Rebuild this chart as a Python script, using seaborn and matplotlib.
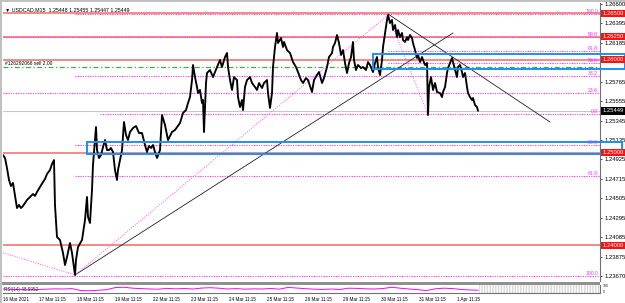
import numpy as np
import pandas as pd
import matplotlib
matplotlib.use("Agg")
import matplotlib.pyplot as plt
import matplotlib.transforms as mtransforms
from matplotlib.patches import Rectangle
import seaborn as sns

sns.set_style("white")
plt.rcParams['font.family'] = ['Liberation Sans', 'DejaVu Sans']

# ---------------- DATA ----------------
# time in trading days since 16 Mar 2021 00:00 (weekend skipped)
t_days = [0.521, 0.574, 0.626, 0.679, 0.731, 0.784, 0.837, 0.889, 0.942, 0.995, 1.047, 1.100, 1.153, 1.231,
          1.310, 1.363, 1.416, 1.495, 1.574, 1.626, 1.679, 1.758, 1.810, 1.863, 1.889, 1.942, 2.021, 2.100,
          2.153, 2.205, 2.284, 2.337, 2.416, 2.442, 2.495, 2.600, 2.679, 2.731, 2.758, 2.810, 2.863, 2.889,
          2.942, 2.968, 2.995, 3.047, 3.100, 3.153, 3.205, 3.258, 3.310, 3.363, 3.416, 3.468, 3.521, 3.547,
          3.600, 3.653, 3.705, 3.758, 3.810, 3.863, 3.942, 4.021, 4.100, 4.179, 4.258, 4.310, 4.363, 4.416,
          4.468, 4.521, 4.574, 4.653, 4.705, 4.784, 4.863, 4.968, 5.047, 5.179, 5.258, 5.337, 5.389, 5.442,
          5.495, 5.521, 5.574, 5.626, 5.653, 5.705, 5.758, 5.784, 5.810, 5.863, 5.889, 5.968, 6.047, 6.153,
          6.231, 6.284, 6.363, 6.416, 6.442, 6.495, 6.547, 6.600, 6.679, 6.705, 6.758, 6.810, 6.837, 6.889,
          6.942, 7.021, 7.074, 7.153, 7.205, 7.258, 7.337, 7.389, 7.468, 7.495, 7.547, 7.600, 7.626, 7.679,
          7.731, 7.758, 7.837, 7.889, 7.916, 7.995, 8.074, 8.153, 8.231, 8.284, 8.363, 8.416, 8.495, 8.547,
          8.653, 8.705, 8.784, 8.837, 8.916, 8.968, 9.047, 9.100, 9.179, 9.205, 9.258, 9.310, 9.363, 9.416,
          9.468, 9.521, 9.574, 9.626, 9.679, 9.731, 9.758, 9.810, 9.863, 9.942, 9.995, 10.074, 10.126, 10.179,
          10.258, 10.310, 10.363, 10.389, 10.442, 10.495, 10.521, 10.574, 10.626, 10.653, 10.705, 10.758,
          10.784, 10.837, 10.889, 10.916, 10.968, 11.021, 11.047, 11.100, 11.153, 11.179, 11.231, 11.284,
          11.310, 11.363, 11.416, 11.442, 11.495, 11.547, 11.574, 11.626, 11.679, 11.705, 11.731, 11.784,
          11.837, 11.889, 11.942, 12.021, 12.074, 12.100, 12.153, 12.205, 12.231, 12.284, 12.337, 12.363,
          12.416, 12.468, 12.495, 12.547, 12.600, 12.626, 12.679, 12.731, 12.758, 12.810, 12.863, 12.889,
          12.942, 12.995, 13.021]
price = [1.24973, 1.24941, 1.24833, 1.24704, 1.24639, 1.24672, 1.24532, 1.24402, 1.24435, 1.24402, 1.24424,
         1.24456, 1.24489, 1.24521, 1.24553, 1.24532, 1.24575, 1.24629, 1.24683, 1.24715, 1.24769, 1.24812,
         1.24876, 1.24919, 1.24435, 1.24090, 1.24058, 1.23918, 1.23788, 1.23874, 1.24025, 1.23918, 1.23681,
         1.23842, 1.23982, 1.24058, 1.24273, 1.24521, 1.24306, 1.24241, 1.24596, 1.24866, 1.25135, 1.25275,
         1.25027, 1.24941, 1.24973, 1.25059, 1.25135, 1.25027, 1.25027, 1.25049, 1.25006, 1.24812, 1.24704,
         1.24812, 1.24919, 1.25027, 1.25329, 1.25189, 1.25135, 1.25221, 1.25264, 1.25286, 1.25210, 1.25210,
         1.25081, 1.25006, 1.25070, 1.25049, 1.25081, 1.25006, 1.24941, 1.25027, 1.25404, 1.25297, 1.25135,
         1.25221, 1.25243, 1.25318, 1.25426, 1.25458, 1.25533, 1.25598, 1.25781, 1.25943, 1.25813, 1.25706,
         1.25641, 1.25674, 1.25533, 1.25566, 1.25221, 1.25749, 1.25857, 1.25889, 1.25813, 1.25921, 1.25997,
         1.25921, 1.26029, 1.26072, 1.25921, 1.25781, 1.25674, 1.25813, 1.25781, 1.25598, 1.25490, 1.25566,
         1.25458, 1.25706, 1.25781, 1.25813, 1.25749, 1.25706, 1.25674, 1.25749, 1.25695, 1.25749, 1.25781,
         1.25641, 1.25480, 1.25641, 1.25921, 1.26137, 1.26288, 1.26180, 1.26234, 1.26137, 1.26191, 1.26104,
         1.26072, 1.25975, 1.25921, 1.25867, 1.25781, 1.25749, 1.25803, 1.25781, 1.25652, 1.25781, 1.25835,
         1.25867, 1.25749, 1.25803, 1.25921, 1.26029, 1.26072, 1.26137, 1.26180, 1.26266, 1.26180, 1.26051,
         1.26104, 1.25964, 1.25857, 1.25964, 1.26029, 1.26191, 1.25997, 1.25889, 1.25943, 1.25910, 1.25921,
         1.25889, 1.25975, 1.25943, 1.25867, 1.25964, 1.26029, 1.25921, 1.25835, 1.25997, 1.26137, 1.26288,
         1.26428, 1.26481, 1.26395, 1.26428, 1.26320, 1.26374, 1.26244, 1.26320, 1.26244, 1.26288, 1.26212,
         1.26191, 1.26244, 1.26212, 1.26266, 1.26234, 1.26180, 1.26104, 1.26018, 1.26051, 1.25975, 1.26029,
         1.25997, 1.25943, 1.25964, 1.25404, 1.25706, 1.25813, 1.25674, 1.25749, 1.25652, 1.25641, 1.25598,
         1.25652, 1.25706, 1.25857, 1.25910, 1.25964, 1.26018, 1.25975, 1.25889, 1.25813, 1.25921, 1.25943,
         1.25867, 1.25813, 1.25857, 1.25706, 1.25641, 1.25598, 1.25566, 1.25587, 1.25512, 1.25490, 1.25449]

rsi = [50, 46, 42, 40, 44, 48, 52, 50, 55, 30, 28, 34, 42, 68, 72, 60, 55, 50, 48, 58, 52, 56, 50, 62, 66, 60,
       50, 55, 48, 52, 50, 56, 48, 70, 62, 54, 48, 45, 50, 44, 60, 58, 52, 50, 56, 72, 60, 50, 42, 30, 52, 60,
       56, 45, 38, 35]

tick_days = [0.53, 1.469, 2.469, 3.469, 4.469, 5.469, 6.469, 7.469, 8.469, 9.469, 10.469, 11.469, 12.469]
tick_labels = ["16 Mar 2021", "17 Mar 11:15", "18 Mar 11:15", "19 Mar 11:15", "22 Mar 11:15", "23 Mar 11:15",
               "24 Mar 11:15", "25 Mar 11:15", "26 Mar 11:15", "29 Mar 11:15", "30 Mar 11:15", "31 Mar 11:15",
               "1 Apr 11:15"]
price_ticks = [1.26600, 1.26395, 1.26185, 1.25975, 1.25765, 1.25555, 1.25345, 1.25135, 1.24925, 1.24715,
               1.24505, 1.24295, 1.24085, 1.23875, 1.23670]
hidden_ticks = [1.25975]
red_levels = [1.26500, 1.26250, 1.26000, 1.25000, 1.24000]
fib_prices = [1.26490, 1.26244, 1.26090, 1.25964, 1.25824, 1.25641, 1.25413, 1.25080, 1.24747, 1.23670]
fib_start = [2.416, 0.521, 10.653, 10.653, 2.416, 0.521, 3.073, 2.416, 2.416, 0.521]
fib_labels = ["100.0", "50.0", "61.8", "50.0", "38.2", "23.6", "0.0", "50.0", "61.8", "100.0"]
order_price = 1.25921
bid = 1.25449
box1 = (10.258, 1.25900, 1.26061)
box2 = (2.731, 1.24984, 1.25113)
trend_black = [((2.416, 1.23681), (12.363, 1.26288)), ((10.653, 1.26492), (14.916, 1.25329))]
trend_fib = [((0.521, 1.23920), (2.416, 1.23681)), ((2.416, 1.23681), (10.653, 1.26482)),
             ((10.653, 1.26482), (11.705, 1.25404))]

# ---------------- FIGURE ----------------
W, H = 625, 303
fig = plt.figure(figsize=(W / 100, H / 100), dpi=100)
fig.patch.set_facecolor("white")

def fx(px):
    return px / W

def fy(py):
    return 1 - py / H

XL = (0.521, 16.231)
YL = (1.23616, 1.26611)

ax = fig.add_axes([fx(3), fy(281), fx(600) - fx(3), fy(3) - fy(281)])
ax2 = fig.add_axes([fx(3), fy(293), fx(600) - fx(3), fy(285) - fy(293)])

df = pd.DataFrame({"t": t_days, "price": price})
sns.lineplot(data=df, x="t", y="price", ax=ax, color="black", lw=1.35, estimator=None, sort=False, zorder=3)

ax.set_xlim(*XL)
ax.set_ylim(*YL)
ax.set_xlabel("")
ax.set_ylabel("")
ax.set_xticks([])
for s in ["top", "left", "bottom"]:
    ax.spines[s].set_visible(False)
ax.spines["right"].set_color("#707070")
ax.spines["right"].set_linewidth(0.8)
ax.yaxis.tick_right()
ax.set_yticks(price_ticks)
ax.set_yticklabels(["" if v in hidden_ticks else f"{v:.5f}" for v in price_ticks])
ax.tick_params(axis="y", length=1.5, width=0.5, pad=1.5, labelsize=4.2, colors="black")

# red horizontal levels
for lv in red_levels:
    ax.axhline(lv, color="#f07870", lw=1.2, zorder=1)
# fib levels
for p, s, lab in zip(fib_prices, fib_start, fib_labels):
    ax.hlines(p, s, XL[1], colors="#ff33ff", linestyles=(0, (1, 1.2)), lw=0.8, zorder=1)
    ax.text(XL[1] - 0.05, p, lab, ha="right", va="bottom", color="#ff33ff", fontsize=3.7, zorder=3)
# order line
ax.axhline(order_price, color="#3cb043", lw=0.9, ls=(0, (4, 2, 1, 2)), zorder=1)
ax.text(0.57, order_price + 0.0001, "#126292066 sell 2.00", fontsize=3.5, color="black", ha="left", va="bottom")
# bid line
ax.axhline(bid, color="#c8c8c8", lw=0.8, zorder=1)

# boxes
for (x0, y0, y1), right in [(box1, 16.9), (box2, 16.82)]:
    r = Rectangle((x0, y0), right - x0, y1 - y0, fill=False, ec="#1e8ff0", lw=1.4, clip_on=False, zorder=4)
    ax.add_patch(r)

# trend lines
for (a, b) in trend_black:
    ax.plot([a[0], b[0]], [a[1], b[1]], color="#202020", lw=0.6, zorder=2)
for (a, b) in trend_fib:
    ax.plot([a[0], b[0]], [a[1], b[1]], color="#ff55ff", lw=0.7, ls=(0, (1, 1.5)), zorder=2)

# price labels on axis
tr = mtransforms.blended_transform_factory(ax.transAxes, ax.transData)
for lv in red_levels:
    ax.text(1.004, lv, f"{lv:.5f}", transform=tr, ha="left", va="center", color="white", fontsize=4.2,
            bbox=dict(boxstyle="square,pad=0.2", fc="#ff1010", ec="none"), zorder=5, clip_on=False)
ax.text(1.004, bid, f"{bid:.5f}", transform=tr, ha="left", va="center", color="white", fontsize=4.2,
        bbox=dict(boxstyle="square,pad=0.2", fc="black", ec="none"), zorder=5, clip_on=False)

# title
ax.text(0.004, 0.985, "\u25bc USDCAD,M15  1.25448 1.25455 1.25447 1.25449", transform=ax.transAxes,
        fontsize=3.8, ha="left", va="top", color="black")

# ---------------- sub panel ----------------
rdf = pd.DataFrame({"t": np.linspace(0.521, 13.021, len(rsi)), "rsi": rsi})
sns.lineplot(data=rdf, x="t", y="rsi", ax=ax2, color="#ff00ff", lw=0.7, estimator=None)
ax2.set_xlim(*XL)
ax2.set_ylim(0, 100)
ax2.set_xlabel("")
ax2.set_ylabel("")
ax2.set_yticks([])
for s in ["top", "left"]:
    ax2.spines[s].set_visible(False)
ax2.spines["right"].set_color("#707070")
ax2.spines["bottom"].set_color("#707070")
ax2.spines["right"].set_linewidth(0.8)
ax2.spines["bottom"].set_linewidth(0.8)
ax2.add_patch(Rectangle((13.05, 0), XL[1] - 13.05, 100, fill=False, hatch="||||||", ec="#d8d8d8", lw=0))
ax2.text(0.002, 0.5, "RSI(14) 48.9952", transform=ax2.transAxes, fontsize=3.3, ha="left", va="center")
ax2.text(1.004, 0.62, "100", transform=ax2.transAxes, fontsize=2.6, ha="left", va="bottom")
ax2.text(1.004, 0.38, "0", transform=ax2.transAxes, fontsize=2.6, ha="left", va="top")
ax2.set_xticks(tick_days)
ax2.set_xticklabels(tick_labels)
ax2.tick_params(axis="x", length=2, width=0.5, pad=1, labelsize=3.3, colors="black")
for lab in ax2.get_xticklabels():
    lab.set_ha("left")

# frame decorations
fig.add_artist(Rectangle((0, 0), fx(2), 1, transform=fig.transFigure, fc="#c0c0c0", ec="none"))
fig.add_artist(Rectangle((0, fy(1.5)), 1, fy(0) - fy(1.5), transform=fig.transFigure, fc="#c0c0c0", ec="none"))
fig.add_artist(Rectangle((fx(2), fy(284.5)), fx(600) - fx(2), fy(281.5) - fy(284.5), transform=fig.transFigure,
                         fc="#909090", ec="none"))

fig.savefig("out.png", dpi=100)
